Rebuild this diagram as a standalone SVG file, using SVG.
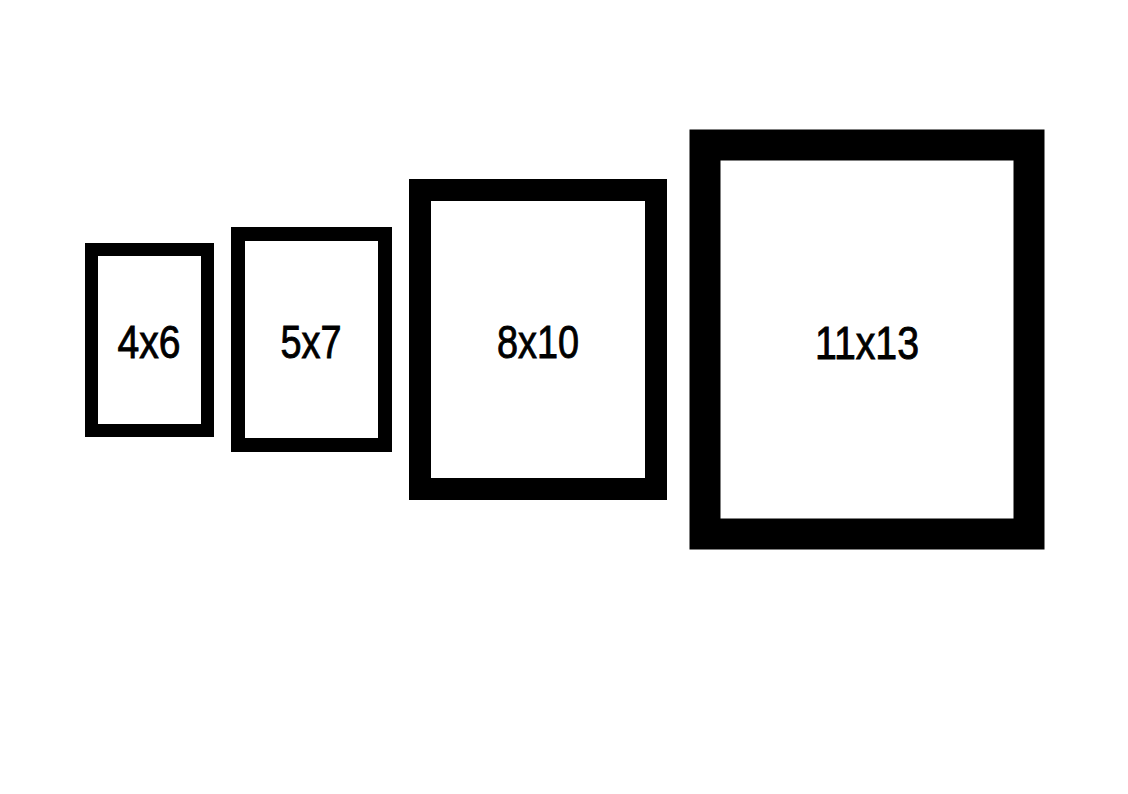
<svg xmlns="http://www.w3.org/2000/svg" width="1128" height="794" viewBox="0 0 1128 794">
<style>
.frame{fill:#ffffff;stroke:#000000;stroke-linejoin:miter}
.lbl{font-family:"Liberation Sans","Arial",sans-serif;font-size:47px;fill:#000000;stroke:#000000;stroke-width:0.9px;text-anchor:middle}
</style>
<rect x="0" y="0" width="1128" height="794" fill="#ffffff"/>
<g id="connectors"></g>
<g id="frame-4x6">
<rect class="frame" x="91.5" y="249.5" width="116" height="181" stroke-width="13"/>
<text class="lbl" x="149" y="358" textLength="63" lengthAdjust="spacingAndGlyphs">4x6</text>
</g>
<g id="frame-5x7">
<rect class="frame" x="238" y="234" width="147" height="211" stroke-width="14"/>
<text class="lbl" x="311" y="358" textLength="61" lengthAdjust="spacingAndGlyphs">5x7</text>
</g>
<g id="frame-8x10">
<rect class="frame" x="420" y="190" width="236" height="299" stroke-width="22"/>
<text class="lbl" x="538" y="358" textLength="82" lengthAdjust="spacingAndGlyphs">8x10</text>
</g>
<g id="frame-11x13">
<rect class="frame" x="705" y="145" width="324" height="389" stroke-width="31"/>
<text class="lbl" x="867" y="359" textLength="104" lengthAdjust="spacingAndGlyphs">11x13</text>
</g>
</svg>
